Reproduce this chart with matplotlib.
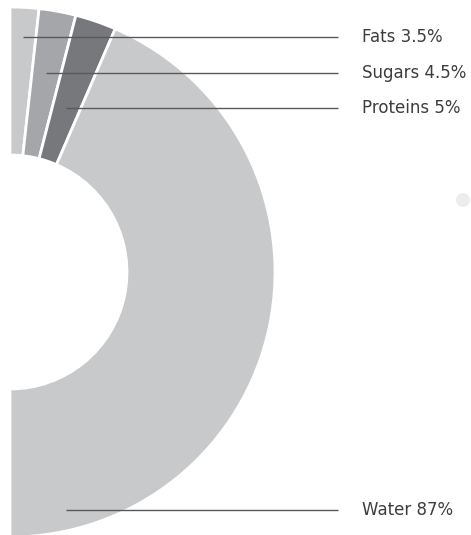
import numpy as np
import matplotlib.pyplot as plt
from matplotlib.patches import Circle

# 구성 성분 데이터
labels = ["Fats", "Sugars", "Proteins", "Water"]
shares = [3.5, 4.5, 5.0, 87.0]
colors = ["#c8c9cb", "#a5a6a9", "#77787b", "#c8c9cb"]

plt.rcParams['font.family'] = ['DejaVu Sans']

W, H = 471, 535
fig = plt.figure(figsize=(W / 100, H / 100), dpi=100)
ax = fig.add_axes([0, 0, 1, 1])

# 반원 도넛: 전체 100% 가 180도를 차지하도록 숨은 조각을 하나 더 붙임
cx, cy = 10, H - 272
r_out, r_in = 265, 117
vals = shares + [sum(shares)]
wedges, _ = ax.pie(vals, colors=colors + ["none"], startangle=90, counterclock=False,
                   center=(cx, cy), radius=r_out, frame=True,
                   wedgeprops=dict(width=r_out - r_in, edgecolor="white", linewidth=2))
wedges[-1].set_edgecolor("none")
ax.set_xlim(0, W)
ax.set_ylim(0, H)
ax.set_aspect('equal')
ax.axis('off')

# 라벨 + 지시선
label_y = [H - 37, H - 73, H - 108, H - 510]
line_end = 338
text_x = 362
for w, lab, val, ly in zip(wedges[:-1], labels, shares, label_y):
    mid = np.deg2rad((w.theta1 + w.theta2) / 2)
    if lab == "Water":
        x0 = 66
    else:
        x0 = cx + (ly - cy) / np.tan(mid)
    ax.plot([x0, line_end], [ly, ly], color="#58595b", lw=1, solid_capstyle="butt")
    txt = f"{lab} {val:g}%"
    ax.text(text_x, ly, txt, fontsize=12, color="#3d3d3d", va="center", ha="left")

ax.add_patch(Circle((463, H - 200), 7, color="#ececec", lw=0))

plt.savefig("out.png", dpi=100)
